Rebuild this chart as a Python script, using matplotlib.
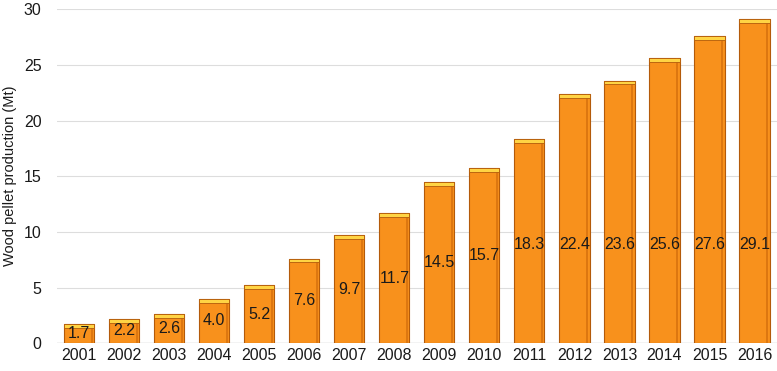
import matplotlib
matplotlib.use("Agg")
import matplotlib.pyplot as plt
import numpy as np

plt.rcParams['font.family'] = ['Liberation Sans', 'DejaVu Sans']

# wood pellet production per year
years = ['2001', '2002', '2003', '2004', '2005', '2006', '2007', '2008',
         '2009', '2010', '2011', '2012', '2013', '2014', '2015', '2016']
production = [1.7, 2.2, 2.6, 4.0, 5.2, 7.6, 9.7, 11.7,
              14.5, 15.7, 18.3, 22.4, 23.6, 25.6, 27.6, 29.1]

fig = plt.figure(figsize=(7.77, 3.71), dpi=100)
ax = fig.add_axes([0.073, 0.075, 0.927, 0.90])

x = np.arange(len(years))
width = 0.67

# bars: body with darker side, plus a yellow top cap
ax.bar(x, production, width=width, color='#F8911C', edgecolor='#B35A0A',
       linewidth=0.8, zorder=2)
ax.bar(x + width * 0.42, production, width=width * 0.08, color='#DD7710',
       linewidth=0, zorder=3)
cap = 0.35
ax.bar(x, [cap] * len(x), bottom=[v - cap for v in production], width=width,
       color='#FFD444', edgecolor='#B35A0A', linewidth=0.6, zorder=4)

for xi, v in zip(x, production):
    ax.text(xi, min(v / 2, 8.9), f'{v:.1f}', ha='center', va='center',
            fontsize=11.5, color='#1a1a1a', zorder=5)

ax.set_xlim(-0.5, len(years) - 0.5)
ax.set_ylim(0, 30)
ax.set_yticks(range(0, 31, 5))
ax.set_xticks(x)
ax.set_xticklabels(years)
ax.tick_params(axis='both', length=0, labelsize=11.5, colors='#1a1a1a')
ax.tick_params(axis='y', pad=11)
ax.yaxis.grid(True, color='#dddddd', linewidth=0.8, zorder=0)
for s in ax.spines.values():
    s.set_visible(False)
ax.axhline(0, color='#cccccc', linewidth=1, zorder=1)
ax.set_ylabel('Wood pellet production (Mt)', fontsize=10.5, color='#1a1a1a', labelpad=5)

fig.savefig('out.png', dpi=100)
